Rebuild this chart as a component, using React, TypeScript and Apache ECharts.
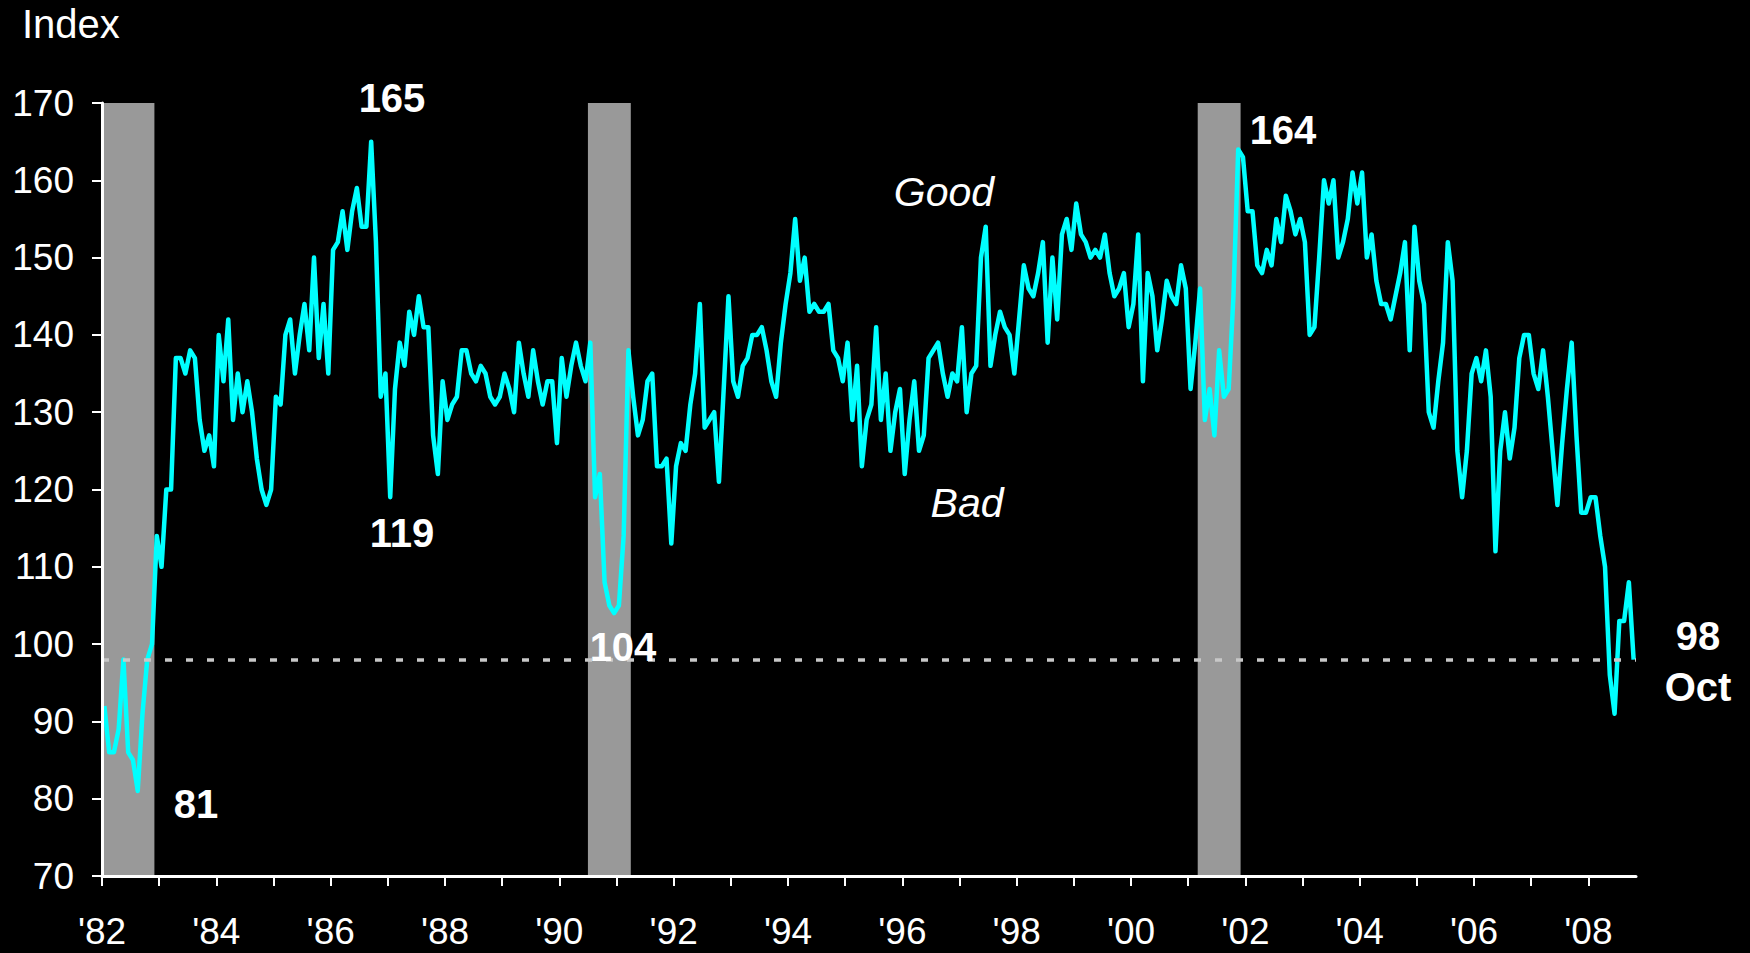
import React, { useEffect, useRef } from "react";
import * as echarts from "echarts";

// Monthly index values, Jan 1982 – Oct 2008
const v1982 = [92, 86, 86, 89, 98, 86, 85, 81, 91, 98, 100, 114];
const v1983 = [110, 120, 120, 137, 137, 135, 138, 137, 129, 125, 127, 123];
const v1984 = [140, 134, 142, 129, 135, 130, 134, 130, 124, 120, 118, 120];
const v1985 = [132, 131, 140, 142, 135, 140, 144, 138, 150, 137, 144, 135];
const v1986 = [151, 152, 156, 151, 156, 159, 154, 154, 165, 152, 132, 135];
const v1987 = [119, 133, 139, 136, 143, 140, 145, 141, 141, 127, 122, 134];
const v1988 = [129, 131, 132, 138, 138, 135, 134, 136, 135, 132, 131, 132];
const v1989 = [135, 133, 130, 139, 135, 132, 138, 134, 131, 134, 134, 126];
const v1990 = [137, 132, 136, 139, 136, 134, 139, 119, 122, 108, 105, 104];
const v1991 = [105, 114, 138, 132, 127, 129, 134, 135, 123, 123, 124, 113];
const v1992 = [123, 126, 125, 131, 135, 144, 128, 129, 130, 121, 133, 145];
const v1993 = [134, 132, 136, 137, 140, 140, 141, 138, 134, 132, 139, 144];
const v1994 = [148, 155, 147, 150, 143, 144, 143, 143, 144, 138, 137, 134];
const v1995 = [139, 129, 136, 123, 129, 131, 141, 129, 135, 125, 130, 133];
const v1996 = [122, 129, 134, 125, 127, 137, 138, 139, 135, 132, 135, 134];
const v1997 = [141, 130, 135, 136, 150, 154, 136, 140, 143, 141, 140, 135];
const v1998 = [142, 149, 146, 145, 148, 152, 139, 150, 142, 153, 155, 151];
const v1999 = [157, 153, 152, 150, 151, 150, 153, 148, 145, 146, 148, 141];
const v2000 = [144, 153, 134, 148, 145, 138, 142, 147, 145, 144, 149, 146];
const v2001 = [133, 139, 146, 129, 133, 127, 138, 132, 133, 145, 164, 163];
const v2002 = [156, 156, 149, 148, 151, 149, 155, 152, 158, 156, 153, 155];
const v2003 = [152, 140, 141, 150, 160, 157, 160, 150, 152, 155, 161, 157];
const v2004 = [161, 150, 153, 147, 144, 144, 142, 145, 148, 152, 138, 154];
const v2005 = [147, 144, 130, 128, 134, 139, 152, 147, 125, 119, 125, 135];
const v2006 = [137, 134, 138, 132, 112, 125, 130, 124, 128, 137, 140, 140];
const v2007 = [135, 133, 138, 132, 125, 118, 126, 133, 139, 127, 117, 117];
const v2008 = [119, 119, 114, 110, 96, 91, 103, 103, 108, 98];

const firstYear = 1982;
const axisEnd = 2008 + 10 / 12; // end of Oct 2008

// Recession periods (decimal years)
const recessionStart = [1982, 1990.5, 2001 + 2 / 12];
const recessionEnd = [1982 + 11 / 12, 1991.25, 2001 + 11 / 12];

// Tick years and labelled years
const tickYears = [
  1982, 1983, 1984, 1985, 1986, 1987, 1988, 1989, 1990, 1991, 1992, 1993, 1994,
  1995, 1996, 1997, 1998, 1999, 2000, 2001, 2002, 2003, 2004, 2005, 2006, 2007, 2008,
];
const labelYears = [1982, 1984, 1986, 1988, 1990, 1992, 1994, 1996, 1998, 2000, 2002, 2004, 2006, 2008];

const latestValue = 98;
const latestMonth = "Oct";

const FONT = "'Liberation Sans', Arial, Helvetica, sans-serif";

export default function App() {
  const ref = useRef<HTMLDivElement>(null);

  useEffect(() => {
    const all = [
      v1982, v1983, v1984, v1985, v1986, v1987, v1988, v1989, v1990, v1991, v1992,
      v1993, v1994, v1995, v1996, v1997, v1998, v1999, v2000, v2001, v2002, v2003,
      v2004, v2005, v2006, v2007, v2008,
    ];
    const data: [number, number][] = [];
    all.forEach((yr, yi) => {
      yr.forEach((v, mi) => {
        data.push([firstYear + yi + (mi + 0.5) / 12, v]);
      });
    });

    const areas = recessionStart.map((s, i) => [{ xAxis: s }, { xAxis: recessionEnd[i] }]);

    const chart = echarts.init(ref.current!, null, { renderer: "svg" });

    const boldText = (text: string, x: number, y: number) => ({
      type: "text",
      x,
      y,
      z: 100,
      style: {
        text,
        fill: "#ffffff",
        fontSize: 40,
        fontWeight: "bold",
        fontFamily: FONT,
        align: "center",
        verticalAlign: "middle",
      },
    });
    const italicText = (text: string, x: number, y: number) => ({
      type: "text",
      x,
      y,
      z: 100,
      style: {
        text,
        fill: "#ffffff",
        fontSize: 41,
        fontStyle: "italic",
        fontFamily: FONT,
        align: "center",
        verticalAlign: "middle",
      },
    });

    chart.setOption({
      animation: false,
      backgroundColor: "#000000",
      textStyle: { fontFamily: FONT },
      grid: { left: 102, top: 103, width: 1534, height: 773, containLabel: false },
      xAxis: {
        type: "value",
        min: firstYear,
        max: axisEnd,
        z: 10,
        splitLine: { show: false },
        axisLine: { show: true, lineStyle: { color: "#ffffff", width: 3 } },
        axisTick: {
          show: true,
          inside: false,
          length: 10,
          customValues: tickYears,
          lineStyle: { color: "#ffffff", width: 2 },
        },
        axisLabel: {
          show: true,
          customValues: labelYears,
          color: "#ffffff",
          fontSize: 37,
          fontFamily: FONT,
          margin: 37,
          formatter: (v: number) => "'" + String(Math.round(v)).slice(2),
        },
      },
      yAxis: {
        type: "value",
        min: 70,
        max: 170,
        interval: 10,
        z: 10,
        splitLine: { show: false },
        axisLine: { show: true, lineStyle: { color: "#ffffff", width: 3 } },
        axisTick: { show: true, inside: false, length: 10, lineStyle: { color: "#ffffff", width: 2 } },
        axisLabel: { color: "#ffffff", fontSize: 37, fontFamily: FONT, margin: 28 },
      },
      series: [
        {
          type: "line",
          name: "bands",
          data: [],
          z: 1,
          silent: true,
          markArea: {
            silent: true,
            itemStyle: { color: "#999999", opacity: 1 },
            label: { show: false },
            data: areas,
          },
        },
        {
          type: "line",
          name: "Index",
          data,
          z: 3,
          showSymbol: false,
          symbol: "none",
          lineStyle: { color: "#00ffff", width: 4.5, join: "round" },
        },
        {
          type: "line",
          name: "latest",
          data: [],
          z: 5,
          markLine: {
            silent: true,
            symbol: ["none", "none"],
            label: { show: false },
            lineStyle: { color: "#c8c8c8", width: 3.5, type: [7, 14] },
            data: [{ yAxis: latestValue }],
          },
        },
      ],
      graphic: [
        {
          type: "text",
          x: 22,
          y: 24,
          style: {
            text: "Index",
            fill: "#ffffff",
            fontSize: 40,
            fontFamily: FONT,
            align: "left",
            verticalAlign: "middle",
          },
        },
        boldText("165", 392, 98),
        boldText("119", 402, 533),
        boldText("104", 623, 647),
        boldText("164", 1283, 130),
        boldText("81", 196, 804),
        boldText(String(latestValue), 1698, 636),
        boldText(latestMonth, 1698, 687),
        italicText("Good", 944, 192),
        italicText("Bad", 967, 503),
      ],
    });

    return () => chart.dispose();
  }, []);

  return (
    <div style={{ position: "fixed", left: 0, top: 0, width: 1750, height: 953, background: "#000" }}>
      <div ref={ref} style={{ width: 1750, height: 953 }} />
    </div>
  );
}
